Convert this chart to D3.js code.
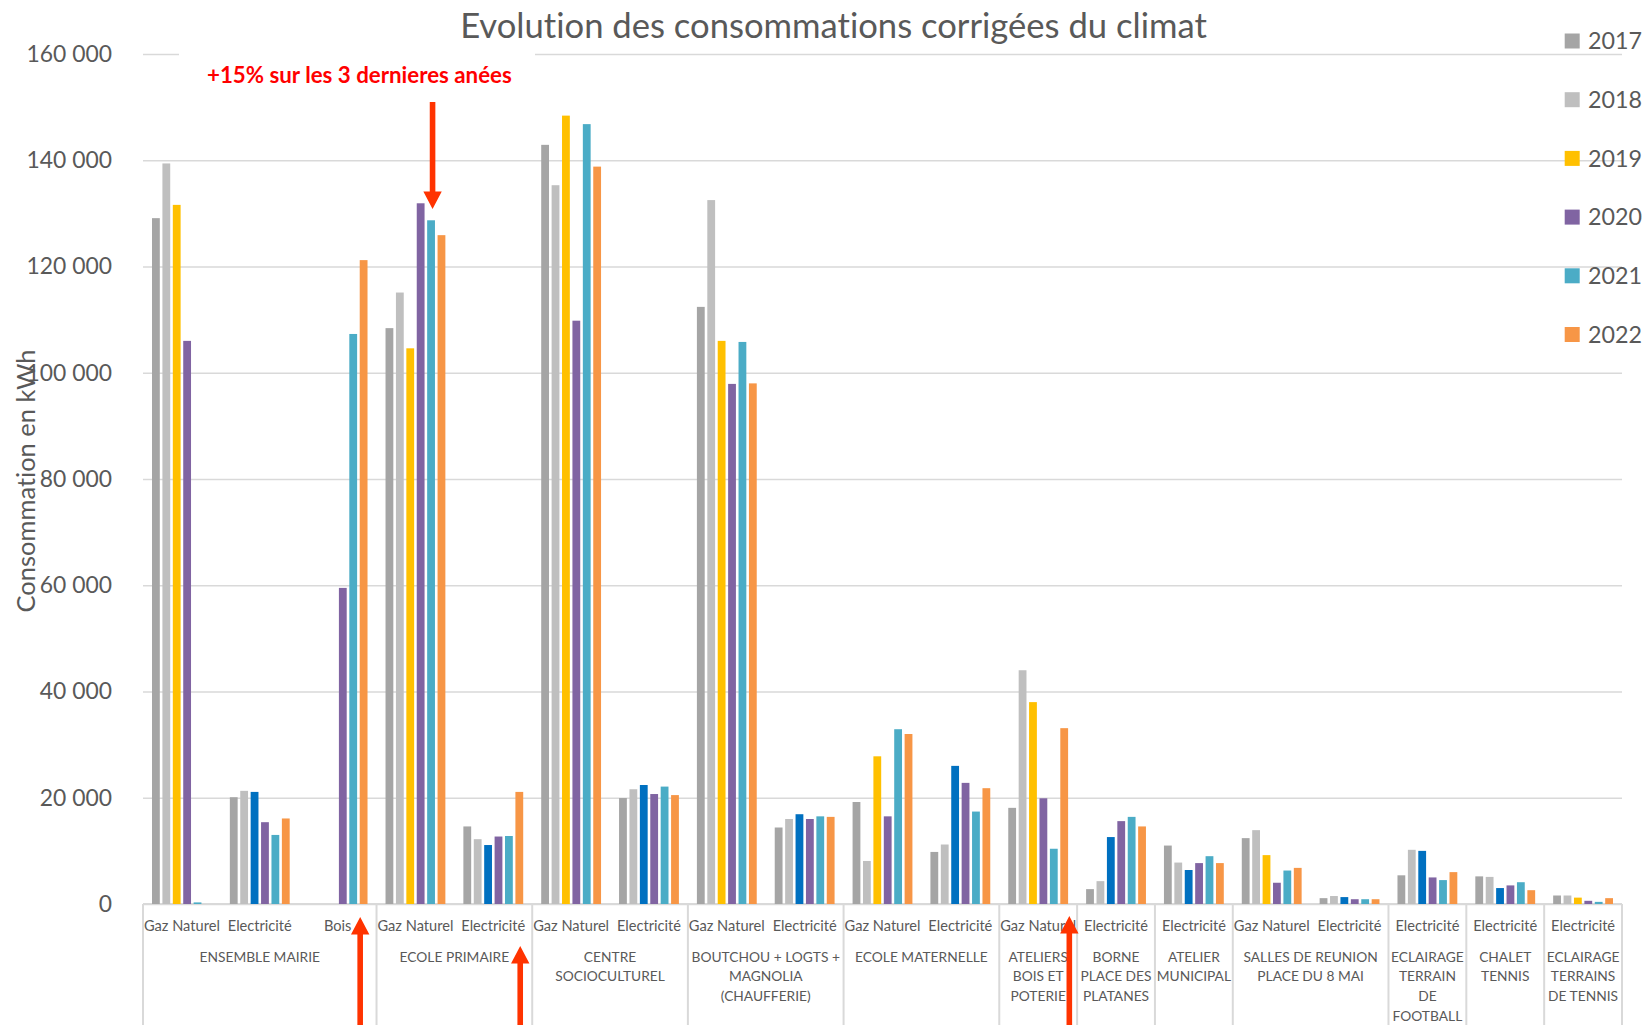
<!DOCTYPE html>
<html><head><meta charset="utf-8">
<script src="https://cdn.jsdelivr.net/npm/d3@7"></script>
<style>
html,body{margin:0;padding:0;background:#fff;overflow:hidden}
text{font-family:Lato,"Open Sans","DejaVu Sans",sans-serif;font-variant-ligatures:none;font-feature-settings:"liga" 0,"clig" 0}
</style>
</head><body><svg id="c"></svg>
<script>
// ---------- DATA ----------
const years = ["2017","2018","2019","2020","2021","2022"];
const yearColors = ["#A5A5A5","#BFBFBF","#FFC000","#8064A2","#4BACC6","#F79646"];
const altColor2019 = "#0070C0";

const subLabels = ["Gaz Naturel","Electricité","Bois","Gaz Naturel","Electricité","Gaz Naturel","Electricité",
  "Gaz Naturel","Electricité","Gaz Naturel","Electricité","Gaz Naturel","Electricité","Electricité",
  "Gaz Naturel","Electricité","Electricité","Electricité","Electricité"];
const subGroup = [0,0,0,1,1,2,2,3,3,4,4,5,6,7,8,8,9,10,11];
const groupLines = [
  ["ENSEMBLE MAIRIE"],["ECOLE PRIMAIRE"],["CENTRE","SOCIOCULTUREL"],
  ["BOUTCHOU + LOGTS +","MAGNOLIA","(CHAUFFERIE)"],["ECOLE MATERNELLE"],
  ["ATELIERS","BOIS ET","POTERIE"],["BORNE","PLACE DES","PLATANES"],["ATELIER","MUNICIPAL"],
  ["SALLES DE REUNION","PLACE DU 8 MAI"],["ECLAIRAGE","TERRAIN","DE","FOOTBALL"],
  ["CHALET","TENNIS"],["ECLAIRAGE","TERRAINS","DE TENNIS"]];

const v2017 = [129100,20100,null,108400,14600,142900,19950,112400,14400,19200,9800,18100,2800,11000,12400,1100,5400,5200,1600];
const v2018 = [139400,21300,null,115100,12200,135300,21600,132500,16000,8100,11200,44000,4300,7800,13900,1500,10200,5100,1600];
const v2019 = [131600,21100,null,104600,11100,148400,22400,106000,16900,27800,26000,38000,12600,6400,9200,1300,10000,3000,1200];
const v2020 = [106000,15400,59500,131900,12700,109800,20700,97900,16000,16500,22800,19900,15600,7700,4000,900,5000,3500,600];
const v2021 = [300,13000,107300,128700,12800,146800,22100,105800,16500,32900,17400,10400,16400,9000,6300,900,4500,4100,400];
const v2022 = [null,16100,121200,125900,21100,138800,20500,98000,16400,32000,21800,33100,14600,7700,6800,900,6000,2600,1100];
const seriesValues = [v2017,v2018,v2019,v2020,v2021,v2022];
const blue2019 = [false,true,false,false,true,false,true,false,true,false,true,false,true,true,false,true,true,true,false];

const yTicks = [0,20000,40000,60000,80000,100000,120000,140000,160000];
const titleText = "Evolution des consommations corrigées du climat";
const yTitleText = "Consommation en kWh";
const noteText = "+15% sur les 3 dernieres anées";
const arrowsDef = [{cat:3,year:"2021",dir:"down"},{cat:2,frac:0.79,dir:"up",tip:917},{cat:4,frac:0.846,dir:"up",tip:946},{cat:11,frac:0.9,dir:"up",tip:916}];

(function(){
// ---------- LAYOUT ----------
const W=1649,H=1025;
const pL=143,pR=1622,pT=54,pB=904;
const textColor="#595959", gridColor="#D9D9D9", arrowColor="#FF3300";

const svg=d3.select("#c").attr("width",W).attr("height",H);
svg.append("rect").attr("width",W).attr("height",H).attr("fill","#fff");

const cats=d3.range(subLabels.length);
const x0=d3.scaleBand().domain(cats).range([pL,pR]).padding(0);
const x1=d3.scaleBand().domain(years).range([0,x0.bandwidth()]).paddingInner(0).paddingOuter(0.74);
const y=d3.scaleLinear().domain([0,160000]).range([pB,pT]);

function fit(sel,target){
  sel.style("font-size","20px");
  const w=sel.node().getComputedTextLength();
  const s=20*target/w;
  sel.style("font-size",s+"px");
  return s;
}
function measureSize(str,target,weight){
  const t=svg.append("text").text(str).attr("font-weight",weight||"normal");
  const s=fit(t,target); t.remove(); return s;
}

const loc=d3.formatLocale({decimal:",",thousands:" ",grouping:[3],currency:["","€"]});
const fmt=loc.format(",");
const yFont=measureSize("160 000",85.5);
const yAxis=d3.axisLeft(y).tickValues(yTicks).tickFormat(fmt).tickSize(-(pR-pL)).tickPadding(31);
const gy=svg.append("g").attr("transform",`translate(${pL},0)`).call(yAxis);
gy.select(".domain").remove();
gy.selectAll(".tick line").attr("stroke",gridColor).attr("stroke-width",1.6);
gy.selectAll(".tick text").attr("fill",textColor).style("font-size",yFont+"px").style("font-family","Lato,'Open Sans',sans-serif");

const groupIdx=d3.range(groupLines.length);
const groupSpan=groupIdx.map(g=>{
  const idx=cats.filter(i=>subGroup[i]===g);
  return [x0(idx[0]), x0(idx[idx.length-1])+x0.bandwidth()];
});
const divX=[groupSpan[0][0]].concat(groupSpan.map(s=>s[1]));
svg.append("g").selectAll("line").data(divX).join("line")
  .attr("x1",d=>d).attr("x2",d=>d).attr("y1",pB).attr("y2",H)
  .attr("stroke",gridColor).attr("stroke-width",2);
svg.append("line").attr("x1",pL).attr("x2",pR).attr("y1",pB).attr("y2",pB)
  .attr("stroke",gridColor).attr("stroke-width",2);

const barData=[];
years.forEach((yr,j)=>cats.forEach(i=>{
  const v=seriesValues[j][i];
  if(v!=null) barData.push({i,yr,j,v});
}));
svg.append("g").selectAll("rect").data(barData).join("rect")
  .attr("x",d=>x0(d.i)+x1(d.yr)+1.3)
  .attr("width",x1.bandwidth()-2.6)
  .attr("y",d=>y(d.v))
  .attr("height",d=>y(0)-y(d.v))
  .attr("fill",d=>(d.j===2 && blue2019[d.i])?altColor2019:yearColors[d.j]);

const xFont=measureSize("Gaz Naturel",76);
const gFont=measureSize("ENSEMBLE MAIRIE",120.7);
svg.append("g").selectAll("text").data(cats).join("text")
  .attr("x",i=>x0(i)+x0.bandwidth()/2).attr("y",926).attr("dy","0.35em")
  .attr("text-anchor","middle").attr("fill",textColor).style("font-size",xFont+"px")
  .text(i=>subLabels[i]);
const gl=svg.append("g");
groupIdx.forEach(g=>{
  groupLines[g].forEach((ln,k)=>{
    gl.append("text").attr("x",(groupSpan[g][0]+groupSpan[g][1])/2).attr("y",957+k*19.6).attr("dy","0.35em")
      .attr("text-anchor","middle").attr("fill",textColor).style("font-size",gFont+"px").text(ln);
  });
});

const tt=svg.append("text").attr("x",833.5).attr("y",38).attr("text-anchor","middle").attr("fill",textColor).text(titleText);
fit(tt,747);

const yt=svg.append("text").attr("transform","translate(26,481) rotate(-90)").attr("text-anchor","middle")
  .attr("dy","0.35em").attr("fill",textColor).text(yTitleText);
fit(yt,263);

const lgFont=measureSize("2017",54);
const lg=svg.append("g").selectAll("g").data(years).join("g")
  .attr("transform",(d,i)=>`translate(1564.7,${41+i*58.7})`);
lg.append("rect").attr("x",0).attr("y",-7.5).attr("width",15).attr("height",15).attr("fill",(d,i)=>yearColors[i]);
lg.append("text").attr("x",23.3).attr("dy","0.35em").attr("fill",textColor).style("font-size",lgFont+"px").text(d=>d);

svg.append("rect").attr("x",179).attr("y",46).attr("width",356).attr("height",52).attr("fill","#fff");
const nt=svg.append("text").attr("x",207).attr("y",75).attr("dy","0.35em").attr("font-weight","bold")
  .attr("fill","#FF0000").text(noteText);
fit(nt,305);

const ag=svg.append("g").attr("fill",arrowColor);
arrowsDef.forEach(a=>{
  const cx = a.year ? x0(a.cat)+x1(a.year)+x1.bandwidth()/2+1.5 : x0(a.cat)+x0.bandwidth()*a.frac;
  const sw=2.8, hw=9.2, hh=17.5;
  let pts;
  if(a.dir==="down"){
    const t0=102, tip=209;
    pts=[[cx-sw,t0],[cx+sw,t0],[cx+sw,tip-hh],[cx+hw,tip-hh],[cx,tip],[cx-hw,tip-hh],[cx-sw,tip-hh]];
  } else {
    const tip=a.tip, b=H+5;
    pts=[[cx,tip],[cx+hw,tip+hh],[cx+sw,tip+hh],[cx+sw,b],[cx-sw,b],[cx-sw,tip+hh],[cx-hw,tip+hh]];
  }
  ag.append("path").attr("d","M"+pts.map(p=>p.join(",")).join("L")+"Z");
});
})();
</script>
</body></html>
